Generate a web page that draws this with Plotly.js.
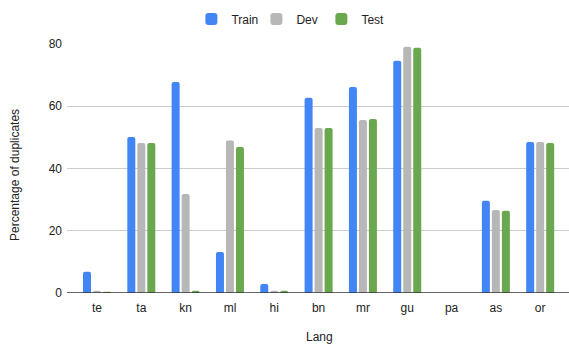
<!DOCTYPE html>
<html>
<head>
<meta charset="utf-8">
<script src="https://cdn.plot.ly/plotly-3.0.1.min.js"></script>
<style>html,body{margin:0;padding:0;background:#fff;}#chart{width:569px;height:344px;}</style>
</head>
<body>
<div id="chart"></div>
<script>
var langs = ["te","ta","kn","ml","hi","bn","mr","gu","pa","as","or"];
var train = [6.8, 50.1, 67.8, 13.2, 2.9, 62.7, 66.2, 74.6, 0, 29.6, 48.5];
var dev   = [0.7, 48.2, 31.8, 49.0, 0.7, 53.0, 55.6, 79.1, 0, 26.7, 48.5];
var test  = [0.4, 48.2, 0.7, 46.9, 0.7, 53.0, 55.9, 78.8, 0, 26.4, 48.2];
var seriesNames = ["Train","Dev","Test"];
var colors = ["#4285F4","#B7B7B7","#6AA84F"];

var vals = [train, dev, test];
var traces = vals.map(function(v, i){
  return {type:"bar", name: seriesNames[i], x: langs, y: v,
    marker:{color: colors[i], cornerradius: 2, line:{width:0}}, hoverinfo:"x+y+name"};
});

var FAM = "'Liberation Sans', Arial, sans-serif";
var font = {family: FAM, size:12, color:"#222222"};
var layout = {
  width:569, height:344,
  margin:{l:67, r:0, t:44, b:51, pad:0},
  paper_bgcolor:"#fff", plot_bgcolor:"#fff",
  font: font,
  barmode:"group", bargap:0.323, bargroupgap:0.2,
  showlegend:true,
  legend:{orientation:"h", x:0.442, xanchor:"center", y:1.10, yanchor:"middle",
    font:{family: FAM, size:12, color:"#222222"}, itemwidth:30,
    entrywidth:20, entrywidthmode:"pixels"},
  xaxis:{type:"category", range:[-0.677, 10.65], showgrid:false, zeroline:false,
    showline:false, ticks:"", tickfont:font, ticklabelstandoff:6, fixedrange:true},
  yaxis:{range:[0,80], tickvals:[0,20,40,60,80], ticktext:["0","20","40","60","80"],
    showgrid:true, gridcolor:"#cccccc", gridwidth:1, zeroline:false, showline:false,
    ticks:"", tickfont:font, ticklabelstandoff:4, fixedrange:true},
  shapes:[{type:"line", xref:"paper", yref:"y", x0:0, x1:1, y0:0, y1:0,
    line:{color:"#333333", width:1.3}}],
  annotations:[
    {text:"Lang", xref:"paper", yref:"paper", x:(319-67)/502, y:-(337-293)/249,
     xanchor:"center", yanchor:"middle", showarrow:false, font:font},
    {text:"Percentage of duplicates", xref:"paper", yref:"paper", x:-(67-15)/502, y:(293-175)/249,
     xanchor:"center", yanchor:"middle", textangle:-90, showarrow:false, font:font}
  ]
};
Plotly.newPlot("chart", traces, layout, {displayModeBar:false, staticPlot:true});
</script>
</body>
</html>
